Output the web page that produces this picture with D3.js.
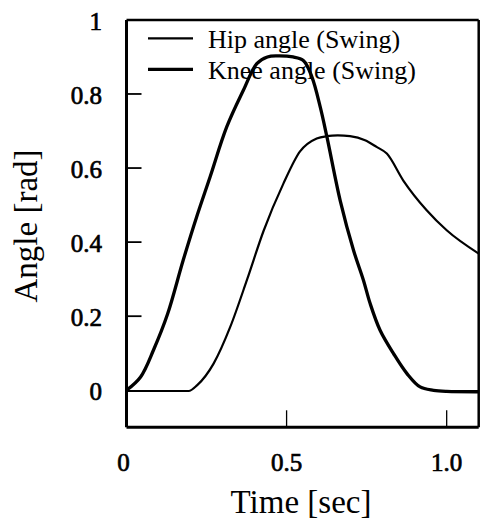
<!DOCTYPE html>
<html>
<head>
<meta charset="utf-8">
<script src="https://cdn.jsdelivr.net/npm/d3@7/dist/d3.min.js"></script>
<style>
  html, body { margin: 0; padding: 0; background: #fff; }
  svg { display: block; }
  text { font-family: "Liberation Serif", "Times New Roman", serif; fill: #000; }
</style>
</head>
<body>
<svg id="chart" width="480" height="521"></svg>
<script>
// ---- data ----
const seriesNames = ["Hip angle (Swing)", "Knee angle (Swing)"];

const hipTime  = [0, 0.1, 0.194, 0.221, 0.272, 0.324, 0.377, 0.428, 0.49, 0.542, 0.594, 0.625, 0.66, 0.698, 0.745, 0.781, 0.813, 0.864, 0.9375, 1.0, 1.1];
const hipAngle = [-0.002, -0.002, -0.002, 0.014, 0.072, 0.171, 0.30, 0.43, 0.558, 0.645, 0.68, 0.686, 0.688, 0.686, 0.675, 0.657, 0.639, 0.567, 0.486, 0.432, 0.369];

const kneeTime  = [0, 0.044, 0.085, 0.128, 0.177, 0.219, 0.261, 0.313, 0.365, 0.407, 0.44, 0.47, 0.52, 0.553, 0.579, 0.605, 0.626, 0.668, 0.709, 0.74, 0.761, 0.792, 0.834, 0.876, 0.917, 0.959, 1.0, 1.1];
const kneeAngle = [0, 0.036, 0.11, 0.205, 0.351, 0.468, 0.576, 0.711, 0.81, 0.882, 0.9, 0.903, 0.9, 0.89, 0.846, 0.765, 0.684, 0.51, 0.378, 0.297, 0.234, 0.162, 0.099, 0.045, 0.009, 0.0, -0.003, -0.004];

const xTicks = [0, 0.5, 1.0];
const xTickLabels = ["0", "0.5", "1.0"];
const yTicks = [0, 0.2, 0.4, 0.6, 0.8, 1];
const yTickLabels = ["0", "0.2", "0.4", "0.6", "0.8", "1"];
const xTitle = "Time [sec]";
const yTitle = "Angle [rad]";

// ---- drawing ----
const svg = d3.select("#chart");
svg.append("rect").attr("width", 480).attr("height", 521).attr("fill", "#fff");

const x = d3.scaleLinear().domain([0, 1.1]).range([126.5, 478.7]);
const y = d3.scaleLinear().domain([-0.1, 1]).range([427.3, 19.9]);

const hipLine = d3.line()
  .x(d => x(d[0])).y(d => y(d[1]))
  .curve(d3.curveMonotoneX);
const kneeLine = d3.line()
  .x(d => x(d[0])).y(d => y(d[1]))
  .curve(d3.curveCatmullRom.alpha(0.5));

const hip = hipTime.map((t, i) => [t, hipAngle[i]]);
const knee = kneeTime.map((t, i) => [t, kneeAngle[i]]);

svg.append("path").datum(hip).attr("d", hipLine)
  .attr("fill", "none").attr("stroke", "#000").attr("stroke-width", 2.2)
  .attr("stroke-linejoin", "round");
svg.append("path").datum(knee).attr("d", kneeLine)
  .attr("fill", "none").attr("stroke", "#000").attr("stroke-width", 3.3)
  .attr("stroke-linejoin", "round");

// frame
const [x0, x1] = x.range();
const [yb, yt] = y.range();
svg.append("line").attr("x1", x0).attr("x2", x0).attr("y1", yt).attr("y2", yb)
  .attr("stroke", "#000").attr("stroke-width", 3);
svg.append("line").attr("x1", x0).attr("x2", x1).attr("y1", yb).attr("y2", yb)
  .attr("stroke", "#000").attr("stroke-width", 3);
svg.append("line").attr("x1", x0).attr("x2", x1).attr("y1", yt).attr("y2", yt)
  .attr("stroke", "#000").attr("stroke-width", 2.5);
svg.append("line").attr("x1", x1).attr("x2", x1).attr("y1", yt).attr("y2", yb)
  .attr("stroke", "#000").attr("stroke-width", 2.5);

// y ticks (inward)
svg.selectAll(".ytick").data(yTicks.filter(v => v > 0 && v < 1)).enter()
  .append("line").attr("class", "ytick")
  .attr("x1", x0).attr("x2", x0 + 15)
  .attr("y1", d => y(d)).attr("y2", d => y(d))
  .attr("stroke", "#000").attr("stroke-width", 1.8);

svg.selectAll(".ylab").data(yTicks).enter()
  .append("text").attr("class", "ylab")
  .attr("x", 102).attr("y", d => y(d) + 10)
  .attr("text-anchor", "end")
  .attr("font-size", 25)
  .attr("stroke", "#000").attr("stroke-width", 0.7)
  .text((d, i) => yTickLabels[i]);

// x ticks (inward, thin)
svg.selectAll(".xtick").data(xTicks.filter(v => v > 0)).enter()
  .append("line").attr("class", "xtick")
  .attr("x1", d => x(d)).attr("x2", d => x(d))
  .attr("y1", yb).attr("y2", yb - 17)
  .attr("stroke", "#000").attr("stroke-width", 1.3);

svg.selectAll(".xlab").data(xTicks).enter()
  .append("text").attr("class", "xlab")
  .attr("x", d => x(d) - (d === 0 ? 3 : 0)).attr("y", 470.5)
  .attr("text-anchor", "middle")
  .attr("font-size", 25)
  .attr("stroke", "#000").attr("stroke-width", 0.7)
  .text((d, i) => xTickLabels[i]);

// axis titles
svg.append("text").attr("x", 301).attr("y", 513)
  .attr("text-anchor", "middle").attr("font-size", 33).text(xTitle);
svg.append("text").attr("transform", "translate(37,226) rotate(-90)")
  .attr("text-anchor", "middle").attr("font-size", 33).text(yTitle);

// legend
const legendY = [38.3, 69.3];
const legendW = [2.2, 3.3];
seriesNames.forEach((name, i) => {
  svg.append("line").attr("x1", 148).attr("x2", 193)
    .attr("y1", legendY[i]).attr("y2", legendY[i])
    .attr("stroke", "#000").attr("stroke-width", legendW[i]);
  svg.append("text").attr("x", 208).attr("y", legendY[i] + 9.5)
    .attr("font-size", 26).text(name);
});
</script>
</body>
</html>
